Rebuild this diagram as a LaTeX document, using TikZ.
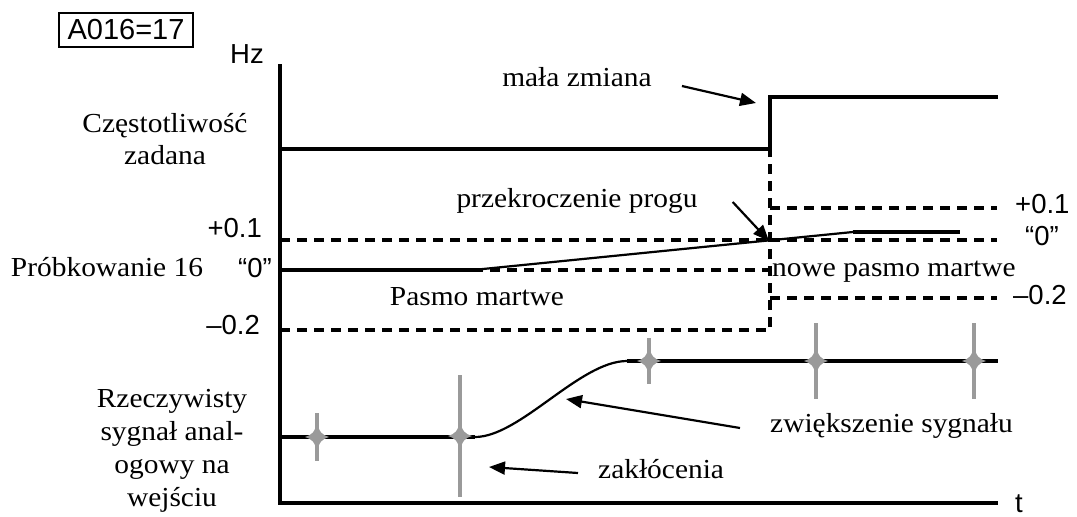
\documentclass[tikz,border=0pt]{standalone}
\usepackage{fontspec}
\setmainfont[FakeStretch=1.07]{Liberation Serif}
\newfontfamily\labfont{Liberation Sans}
\usetikzlibrary{arrows.meta,positioning,calc}
\definecolor{noisegray}{HTML}{9A9A9A}

\begin{document}
\begin{tikzpicture}[x=1pt,y=-1pt,
  axis/.style={line width=4pt},
  level/.style={line width=3.5pt},
  band/.style={line width=3.2pt, dash pattern=on 10pt off 7pt},
  ptr/.style={-{Triangle[length=16pt,width=13pt]}, line width=2.2pt},
  txt/.style={font=\fontsize{27.5}{33}\selectfont, inner sep=0pt, anchor=base},
  num/.style={font=\labfont\fontsize{27.5}{30}\selectfont, inner sep=0pt, anchor=base}]
  \useasboundingbox (0,0) rectangle (1077,517);

  \coordinate (ytop) at (280,64);
  \coordinate (origin) at (280,503);
  \coordinate (xend) at (998,503);
  \draw[axis] (ytop) -- (origin) -- (xend);

  \node[draw, line width=2pt, minimum width=134pt, minimum height=34pt, inner sep=0pt,
        font=\labfont\fontsize{29}{31}\selectfont] (param) at (126,30) {A016=17};
  \node[num] (hz) at (247,63) {Hz};
  \node[num] (tlab) at (1019,512) {t};

  \node[txt, anchor=center, align=center, font=\fontsize{27.5}{32}\selectfont] (fset) at (165,139) {Częstotliwość\\zadana};
  \node[txt] (probe) at (107,276) {Próbkowanie 16};
  \node[txt, anchor=center, align=center] (real) at (172,451) {Rzeczywisty\\sygnał anal-\\ogowy na\\wejściu};

  \draw[level] (280,149) -- (770,149) -- (770,97) -- (998,97);
  \draw[band] (280,240) -- (770,240);
  \draw[band] (473,270) -- (770,270);
  \draw[band] (280,330) -- (770,330) -- (770,149);
  \foreach \y in {208,240,298}
    \draw[band] (770,\y) -- (997,\y);
  \draw[level] (280,270) -- (473,270);
  \draw[line width=2.2pt] (473,270) -- (853,232);
  \draw[level] (853,232) -- (960,232);

  \node[num, anchor=base east] (lup) at (262,237) {+0.1};
  \node[num, anchor=base east] (lzero) at (272,277) {“0”};
  \node[num, anchor=base east] (ldown) at (260,334) {–0.2};
  \node[num, anchor=base west] (rup) at (1015,213) {+0.1};
  \node[num, anchor=base west] (rzero) at (1025,245) {“0”};
  \node[num, anchor=base west] (rdown) at (1013,304) {–0.2};

  \node[txt] (mala) at (577,86) {mała zmiana};
  \node[txt] (przek) at (577,207) {przekroczenie progu};
  \node[txt] (dead) at (477,305) {Pasmo martwe};
  \node[txt, anchor=base west] (newdead) at (772,276) {nowe pasmo martwe};
  \node[txt, anchor=base west] (zwiek) at (770,432) {zwiększenie sygnału};
  \node[txt, anchor=base west] (zakl) at (598,478) {zakłócenia};

  \draw[level] (280,437) -- (475,437);
  \draw[line width=2.2pt] (475,437) .. controls (520,437) and (580,361) .. (627,361);
  \draw[level] (627,361) -- (998,361);

  \foreach \x/\y/\h in {317/437/24,460/436/61,649/361/23,816/361/38,974/361/38}{
    \draw[noisegray, line width=3.5pt] (\x,\y-\h) -- (\x,\y+\h);
    \fill[noisegray, shift={(\x,\y)}] (-12,0) .. controls (-5,-2) and (-2,-5) .. (0,-15)
      .. controls (2,-5) and (5,-2) .. (12,0) .. controls (5,2) and (2,5) .. (0,15)
      .. controls (-2,5) and (-5,2) .. (-12,0) -- cycle;
  }

  \coordinate (jump) at (756,103);
  \coordinate (cross) at (769,241);
  \coordinate (rise) at (566,399);
  \coordinate (spike) at (489,467);
  \draw[ptr] ([xshift=30pt]mala.base east) -- (jump);
  \draw[ptr] ([xshift=35pt,yshift=5pt]przek.base east) -- (cross);
  \draw[ptr] ([xshift=-30pt,yshift=4pt]zwiek.base west) -- (rise);
  \draw[ptr] ([xshift=-20pt,yshift=5pt]zakl.base west) -- (spike);
\end{tikzpicture}
\end{document}
